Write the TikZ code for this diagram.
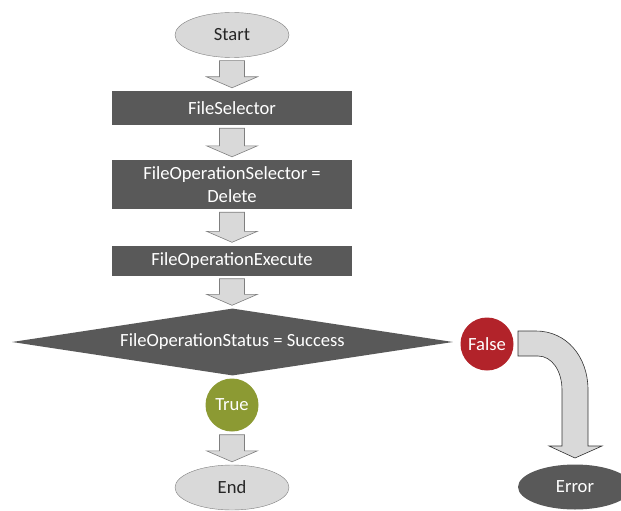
\documentclass[tikz,border=0pt]{standalone}
\usepackage{fontspec}
\setmainfont{Carlito}
\usetikzlibrary{shapes.geometric,calc}
\definecolor{dk}{HTML}{595959}
\definecolor{lt}{HTML}{D9D9D9}
\definecolor{edge}{HTML}{7F7F7F}
\definecolor{redc}{HTML}{B2232A}
\definecolor{greenc}{HTML}{8C9A33}
\newcommand\barr[2]{%
  \path let \p1=(#1.south), \p2=(#2.north) in
  [barrow] (\x1-12.5pt,\y1-3pt) -- (\x1+12.5pt,\y1-3pt) -- (\x1+12.5pt,\y2+14pt)
  -- (\x1+25.5pt,\y2+14pt) -- (\x1,\y2+3pt) -- (\x1-25.5pt,\y2+14pt)
  -- (\x1-12.5pt,\y2+14pt) -- cycle;}
\begin{document}
\begin{tikzpicture}[x=1pt,y=-1pt,
  txt/.style={font=\fontsize{18.6}{23}\selectfont},
  term/.style={txt,ellipse,draw=edge,fill=lt,text=black!85,minimum width=114pt,minimum height=45pt,inner sep=0pt},
  box/.style={txt,fill=dk,text=white,minimum width=240pt,inner sep=0pt,align=center},
  dot/.style={txt,circle,text=white,minimum size=53pt,inner sep=0pt},
  barrow/.style={draw=edge,fill=lt,line width=0.6pt,line join=miter}]
\useasboundingbox (0,0) rectangle (621,511);
\node[term] (start) at (232,35) {Start};
\node[box,minimum height=34pt] (fs) at (232,108) {FileSelector};
\node[box,minimum height=49pt] (fos) at (232,184.5) {FileOperationSelector =\\Delete};
\node[box,minimum height=30pt] (foe) at (232,260.5) {FileOperationExecute};
\node[txt,diamond,fill=dk,text=white,minimum width=441pt,minimum height=67pt,aspect=6.6,inner sep=0pt] (dec) at (232.5,342) {FileOperationStatus = Success};
\node[dot,fill=redc] (false) at (487,344) {False};
\node[dot,fill=greenc] (true) at (232,405) {True};
\node[term] (end) at (232,487.5) {End};
\node[term,draw=none,fill=dk,text=white] (err) at (575,487) {Error};
\barr{start}{fs}
\barr{fs}{fos}
\barr{fos}{foe}
\barr{foe}{dec}
\barr{true}{end}
\draw[barrow,draw=black!80] (518,331) -- (536,331) .. controls (566,331) and (588,356) .. (588,390)
  -- (588,446) -- (602,446) -- (575,458) -- (549,446) -- (562,446) -- (562,390)
  .. controls (562,371) and (552,356) .. (538,356) -- (518,356) -- cycle;
\end{tikzpicture}
\end{document}
